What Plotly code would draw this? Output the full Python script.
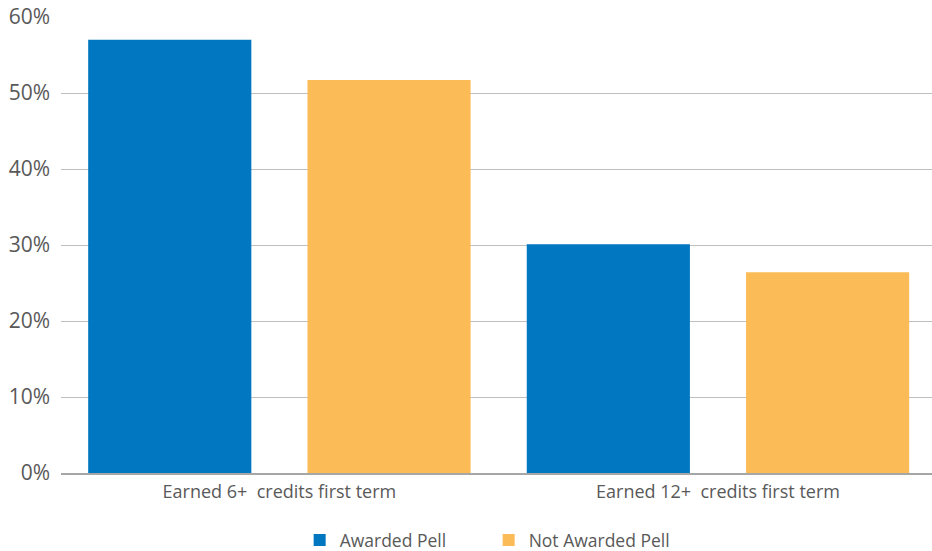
import plotly.graph_objects as go

categories = ["Earned 6+  credits first term", "Earned 12+  credits first term"]
awarded_pell = [57.0, 30.1]
not_awarded_pell = [51.7, 26.4]
y_ticks = [0, 10, 20, 30, 40, 50, 60]
y_tick_labels = ["0%", "10%", "20%", "30%", "40%", "50%", "60%"]

font_family = "Open Sans"
text_color = "#595959"

fig = go.Figure()
fig.add_trace(go.Bar(name="Awarded Pell", x=[0, 1], y=awarded_pell,
                     marker=dict(color="#0077C0", line=dict(width=0))))
fig.add_trace(go.Bar(name="Not Awarded Pell", x=[0, 1], y=not_awarded_pell,
                     marker=dict(color="#FBBC57", line=dict(width=0))))

fig.update_layout(
    width=932, height=551,
    margin=dict(l=61, r=0, t=17, b=78, autoexpand=False),
    paper_bgcolor="white", plot_bgcolor="white",
    barmode="group", bargap=0.0, bargroupgap=0.256,
    font=dict(family=font_family, color=text_color),
    showlegend=True,
    legend=dict(orientation="h", x=0.274, xanchor="left", y=-0.147, yanchor="middle",
                font=dict(size=17.5, color=text_color, family=font_family),
                itemclick=False, entrywidth=144, entrywidthmode="pixels"),
)
fig.update_xaxes(
    tickmode="array", tickvals=[0, 1], ticktext=categories,
    range=[-0.498, 1.488], showgrid=False, zeroline=False, automargin=False,
    showline=True, linecolor="#A6A6A6", linewidth=1.5,
    tickfont=dict(size=18, color=text_color, family=font_family),
    ticks="", ticklabelstandoff=2,
)
fig.update_yaxes(
    range=[0, 60], tickmode="array", tickvals=y_ticks, ticktext=y_tick_labels,
    showgrid=True, gridcolor="#BFBFBF", gridwidth=1, zeroline=False, automargin=False,
    showline=False, ticks="", ticklabelstandoff=10,
    tickfont=dict(size=21, color=text_color, family=font_family),
)

fig.write_html(
    "out.html",
    config={"displayModeBar": False},
    post_script="document.body.style.margin='0';document.body.style.overflow='hidden';",
)
